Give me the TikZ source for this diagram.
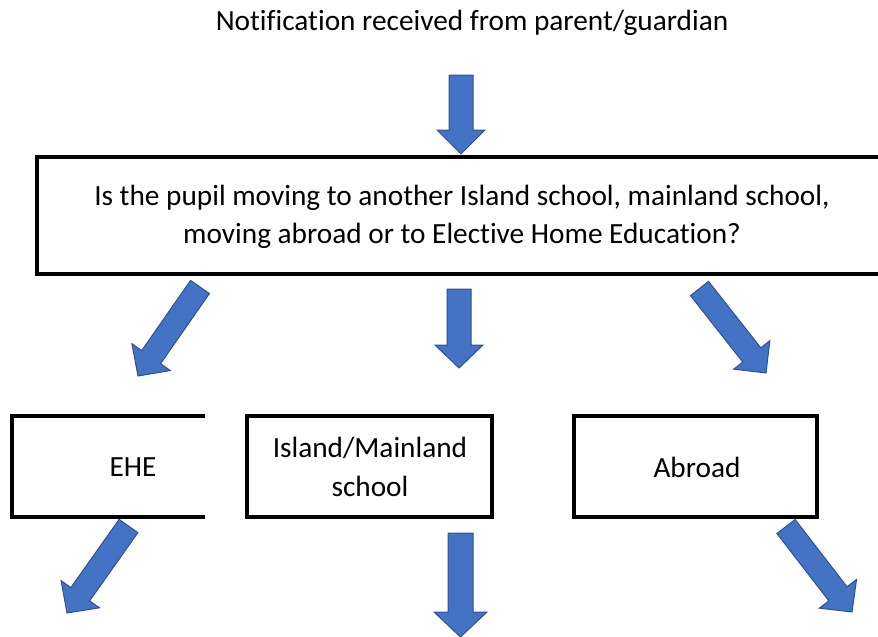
\documentclass[tikz,border=0pt]{standalone}
\usepackage{fontspec}
\setmainfont[Ligatures=CommonOff]{Carlito}
\usetikzlibrary{calc}
\definecolor{arrfill}{HTML}{4472C4}
\definecolor{arrline}{HTML}{2F528F}
\tikzset{
  boxline/.style={line width=4pt, black},
  lbl/.style={font=\fontsize{29.3}{38.5}\selectfont, align=center, inner sep=0pt},
  barrowstyle/.style={fill=arrfill, draw=arrline, line width=1pt, line join=miter}
}
% block arrow from tail #1 to tip #2, half shaft #3, half head #4, head length #5
\newcommand{\blockarrow}[5]{%
  \coordinate (hb) at ($(#2)!#5!(#1)$);
  \filldraw[barrowstyle]
    ($(#1)!#3!90:(#2)$) -- ($(hb)!#3!90:(#2)$) -- ($(hb)!#4!90:(#2)$) -- (#2)
    -- ($(hb)!#4!-90:(#2)$) -- ($(hb)!#3!-90:(#2)$) -- ($(#1)!#3!-90:(#2)$) -- cycle;
}
\begin{document}
\begin{tikzpicture}[x=1pt,y=-1pt]
\useasboundingbox (0,0) rectangle (878,637);
\clip (0,0) rectangle (878,637);
% title
\node[lbl] (title) at (472,23) {Notif\kern0pt ication received from parent/guardian};
% main box (extends beyond right edge)
\draw[boxline] (890,157) -- (37,157) -- (37,274) -- (890,274);
\node[lbl] (q) at (462,217) {Is the pupil moving to another Island school, mainland school,\\moving abroad or to Elective Home Education?};
% EHE box (open on the right)
\draw[boxline] (205,416) -- (12,416) -- (12,517) -- (205,517);
\node[lbl] (ehe) at (133,467) {EHE};
% Island/Mainland box
\draw[boxline] (247,416) rectangle (492,517);
\node[lbl] (isl) at (370,467) {Island/Mainland\\school};
% Abroad box
\draw[boxline] (574,416) rectangle (817,517);
\node[lbl] (abr) at (697,467) {Abroad};
% arrows
\coordinate (a1t) at (461,75);  \coordinate (a1p) at (461,154);
\coordinate (a2t) at (459,289); \coordinate (a2p) at (459,368);
\coordinate (a3t) at (200,287); \coordinate (a3p) at (138,376);
\coordinate (a4t) at (699.5,288.5); \coordinate (a4p) at (766,373);
\coordinate (a5t) at (128.5,526); \coordinate (a5p) at (67,613);
\coordinate (a6t) at (460.5,533); \coordinate (a6p) at (460.5,637);
\coordinate (a7t) at (786,526.5); \coordinate (a7p) at (852,612);
\blockarrow{a1t}{a1p}{12pt}{24pt}{24pt}
\blockarrow{a2t}{a2p}{12pt}{24pt}{23pt}
\blockarrow{a3t}{a3p}{11.5pt}{23.5pt}{23pt}
\blockarrow{a4t}{a4p}{11.5pt}{23pt}{23pt}
\blockarrow{a5t}{a5p}{11.5pt}{23.5pt}{23pt}
\blockarrow{a6t}{a6p}{12.5pt}{26.5pt}{25pt}
\blockarrow{a7t}{a7p}{11.5pt}{23.5pt}{23pt}
\end{tikzpicture}
\end{document}
